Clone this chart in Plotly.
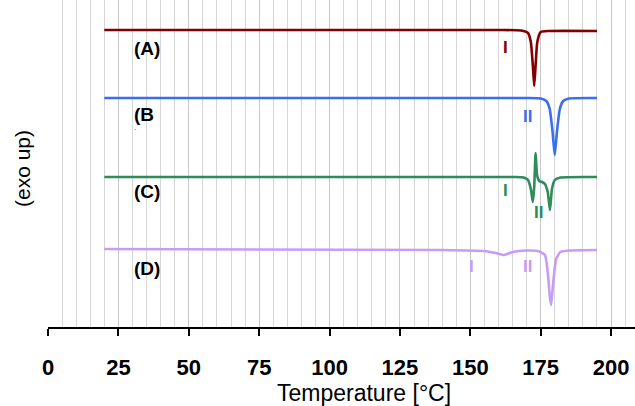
import plotly.graph_objects as go

# ---- data (temperature in °C, heat flow in arbitrary offset units) ----
temp_A = [20, 160, 168, 170.5, 171.5, 172.2, 172.7, 173.2, 173.8, 175, 178, 195]
hf_A   = [297, 297, 296.5, 294, 285, 262, 241, 262, 285, 295, 296, 296]

temp_B = [20, 170, 175, 177, 178.2, 179.2, 180, 180.8, 181.8, 183, 185, 195]
hf_B   = [229, 229, 228.5, 226, 218, 196, 172, 196, 218, 226, 228.5, 229]

temp_C = [20, 165, 169, 170.5, 171.5, 172.2, 172.7, 173.2, 173.7, 174.5, 175.5, 176.5, 177.5, 178.3, 179, 180, 182, 195]
hf_C   = [150, 150, 149.5, 147, 138, 125, 140, 174, 152, 146, 145, 143, 135, 117, 138, 147, 149.5, 150]

temp_D = [20, 140, 155, 159, 162, 165, 170, 174, 176.5, 177.5, 178.2, 178.7, 179.3, 180.5, 182, 185, 195]
hf_D   = [78, 77, 76, 74, 72, 75, 76.5, 76, 72, 55, 32, 22, 40, 68, 75, 76.5, 77]

series_names = ["(A)", "(B", "(C)", "(D)"]
series_colors = ["#820000", "#3a6df0", "#2e8b5a", "#c79cf7"]

FONT = "Liberation Sans, Arial, sans-serif"

fig = go.Figure()
for xs, ys, name, col in zip([temp_A, temp_B, temp_C, temp_D],
                             [hf_A, hf_B, hf_C, hf_D],
                             series_names, series_colors):
    fig.add_trace(go.Scatter(x=xs, y=ys, mode="lines", name=name,
                             line=dict(color=col, width=2.6, shape="spline", smoothing=0.5),
                             showlegend=False, hoverinfo="skip"))

def px_to_x(p):
    return (p - 48) / 2.815

def py_to_y(p):
    return 327 - p

label_font = dict(family=FONT, size=19, color="black", weight="bold")
for name, py in zip(series_names, [48, 114, 191, 268]):
    fig.add_annotation(x=px_to_x(132), y=py_to_y(py), text=name, showarrow=False,
                       xanchor="left", yanchor="middle", font=label_font)
fig.add_annotation(x=px_to_x(135), y=py_to_y(131), text="`", showarrow=False,
                   font=dict(family=FONT, size=8, color="black"))

roman = [("I", 505, 47, series_colors[0]), ("II", 527, 116, series_colors[1]),
         ("I", 505, 190, series_colors[2]), ("II", 538, 212, series_colors[2]),
         ("I", 471, 266, series_colors[3]), ("II", 527, 266, series_colors[3])]
for t, px, py, col in roman:
    fig.add_annotation(x=px_to_x(px), y=py_to_y(py), text=t, showarrow=False,
                       font=dict(family=FONT, size=17, color=col, weight="bold"))

# y-axis title
fig.add_annotation(x=0, xref="paper", xanchor="center", xshift=-26, y=py_to_y(169), yref="y",
                   text="(exo up)", textangle=-90, showarrow=False,
                   font=dict(family=FONT, size=21, color="black"))
# x-axis title
fig.add_annotation(x=px_to_x(363.5), xref="x", xanchor="center", y=0, yref="paper",
                   yanchor="middle", yshift=-66, text="Temperature [°C]", showarrow=False,
                   font=dict(family=FONT, size=23, color="black"))

fig.update_layout(
    width=635, height=406,
    margin=dict(l=48, r=0, t=0, b=79),
    plot_bgcolor="white", paper_bgcolor="white",
    xaxis=dict(range=[0, 208.5], dtick=25, tick0=0,
               showline=True, linecolor="black", linewidth=2,
               ticks="outside", ticklen=7, tickwidth=2, tickcolor="black",
               ticklabelstandoff=13,
               tickfont=dict(family=FONT, size=22, color="black", weight="bold"),
               showgrid=True, gridcolor="#c8c8c8", gridwidth=1,
               minor=dict(dtick=5, showgrid=True, gridcolor="#d6d6d6", gridwidth=1, ticks=""),
               zeroline=False),
    yaxis=dict(range=[0, 327], showgrid=False, zeroline=False, showticklabels=False,
               showline=False, ticks=""),
)

fig.write_html("out.html")
